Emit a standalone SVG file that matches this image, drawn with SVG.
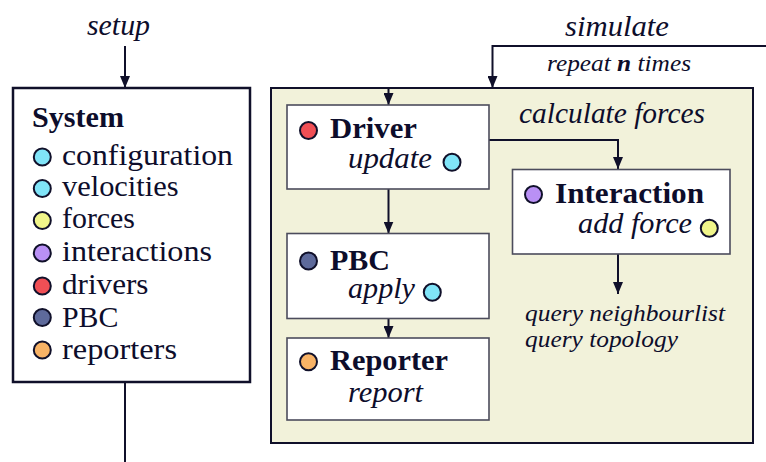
<svg xmlns="http://www.w3.org/2000/svg" width="766" height="462" viewBox="0 0 766 462">
<defs>
<marker id="arr" viewBox="0 0 12 10" refX="12" refY="5" markerWidth="12" markerHeight="10" markerUnits="userSpaceOnUse" orient="auto">
<path d="M0,0 L12,5 L0,10 z" fill="#10102a"/>
</marker>
</defs>
<style>
text{font-family:"Liberation Serif","Times New Roman",serif;fill:#0d0d2b}
.t{font-size:30px}
.b{font-size:30px;font-weight:bold}
.i{font-size:29px;font-style:italic}
.s{font-size:23px;font-style:italic}
.node{fill:#ffffff;stroke:#4c4c5c;stroke-width:1.6}
.dot{stroke:#10102a;stroke-width:2}
.conn{fill:none;stroke:#10102a;stroke-width:2}
.cy{fill:#80e4f8}.ye{fill:#f0f58a}.pu{fill:#b990f5}.re{fill:#f04f55}.nv{fill:#5e6a9b}.or{fill:#f8b366}
</style>
<g id="simulate-frame">
<rect x="271" y="88" width="482" height="355" fill="#f2f2da" stroke="#10102a" stroke-width="2"/>
<text class="i" x="519" y="123" textLength="186" lengthAdjust="spacingAndGlyphs">calculate forces</text>
</g>
<g id="connectors">
<line class="conn" x1="125" y1="46" x2="125" y2="88" marker-end="url(#arr)"/>
<line class="conn" x1="125" y1="382" x2="125" y2="462"/>
<path class="conn" d="M766,46 H492.5 V88" marker-end="url(#arr)"/>
<line class="conn" x1="388.5" y1="88" x2="388.5" y2="105" marker-end="url(#arr)"/>
<path class="conn" d="M489,140 H618 V169" marker-end="url(#arr)"/>
<line class="conn" x1="388.5" y1="189" x2="388.5" y2="233.5" marker-end="url(#arr)"/>
<line class="conn" x1="388.5" y1="318.5" x2="388.5" y2="338" marker-end="url(#arr)"/>
<line class="conn" x1="618" y1="254" x2="618" y2="294" marker-end="url(#arr)"/>
</g>
<g id="labels">
<text class="i" x="87" y="35" textLength="63" lengthAdjust="spacingAndGlyphs">setup</text>
<text class="i" x="565" y="36" textLength="104" lengthAdjust="spacingAndGlyphs">simulate</text>
<text class="s" x="547" y="71" textLength="144" lengthAdjust="spacingAndGlyphs">repeat <tspan font-weight="bold">n</tspan> times</text>
<text class="s" x="525" y="321" textLength="200" lengthAdjust="spacingAndGlyphs">query neighbourlist</text>
<text class="s" x="525" y="347" textLength="153" lengthAdjust="spacingAndGlyphs">query topology</text>
</g>
<g id="system">
<rect x="13" y="88" width="237" height="294" fill="#ffffff" stroke="#10102a" stroke-width="2.5"/>
<text class="b" x="32" y="127" textLength="92" lengthAdjust="spacingAndGlyphs">System</text>
<circle class="dot cy" cx="42.3" cy="157" r="8.5"/>
<text class="t" x="62" y="164.5" textLength="171" lengthAdjust="spacingAndGlyphs">configuration</text>
<circle class="dot cy" cx="42.3" cy="188.5" r="8.5"/>
<text class="t" x="62" y="196" textLength="116.5" lengthAdjust="spacingAndGlyphs">velocities</text>
<circle class="dot ye" cx="42.3" cy="220.5" r="8.5"/>
<text class="t" x="62" y="228" textLength="73" lengthAdjust="spacingAndGlyphs">forces</text>
<circle class="dot pu" cx="42.3" cy="253" r="8.5"/>
<text class="t" x="62" y="261" textLength="150" lengthAdjust="spacingAndGlyphs">interactions</text>
<circle class="dot re" cx="42.3" cy="286" r="8.5"/>
<text class="t" x="62" y="293.5" textLength="86.5" lengthAdjust="spacingAndGlyphs">drivers</text>
<circle class="dot nv" cx="42.3" cy="317.5" r="8.5"/>
<text class="t" x="62" y="326.5" textLength="56.5" lengthAdjust="spacingAndGlyphs">PBC</text>
<circle class="dot or" cx="42.3" cy="350" r="8.5"/>
<text class="t" x="62" y="358.5" textLength="115" lengthAdjust="spacingAndGlyphs">reporters</text>
</g>
<g id="driver">
<rect class="node" x="287" y="105" width="202" height="84"/>
<circle class="dot re" cx="308.5" cy="130.5" r="8.5"/>
<text class="b" x="330" y="138" textLength="87" lengthAdjust="spacingAndGlyphs">Driver</text>
<text class="i" x="348" y="168" textLength="84" lengthAdjust="spacingAndGlyphs">update</text>
<circle class="dot cy" cx="452" cy="162.3" r="8.5"/>
</g>
<g id="interaction">
<rect class="node" x="512.5" y="169.5" width="217.5" height="84.5"/>
<circle class="dot pu" cx="533.5" cy="194.5" r="8.5"/>
<text class="b" x="555" y="202.5" textLength="149" lengthAdjust="spacingAndGlyphs">Interaction</text>
<text class="i" x="578" y="233.3" textLength="114" lengthAdjust="spacingAndGlyphs">add force</text>
<circle class="dot ye" cx="709.3" cy="228.3" r="8.5"/>
</g>
<g id="pbc">
<rect class="node" x="287" y="233.5" width="202" height="85"/>
<circle class="dot nv" cx="308.5" cy="261" r="8.5"/>
<text class="b" x="330" y="270" textLength="60" lengthAdjust="spacingAndGlyphs">PBC</text>
<text class="i" x="348" y="298" textLength="67" lengthAdjust="spacingAndGlyphs">apply</text>
<circle class="dot cy" cx="432.3" cy="292.3" r="8.5"/>
</g>
<g id="reporter">
<rect class="node" x="287" y="338" width="202" height="82"/>
<circle class="dot or" cx="308.5" cy="361.7" r="8.5"/>
<text class="b" x="330" y="369.5" textLength="118" lengthAdjust="spacingAndGlyphs">Reporter</text>
<text class="i" x="348" y="401.5" textLength="75" lengthAdjust="spacingAndGlyphs">report</text>
</g>
</svg>
